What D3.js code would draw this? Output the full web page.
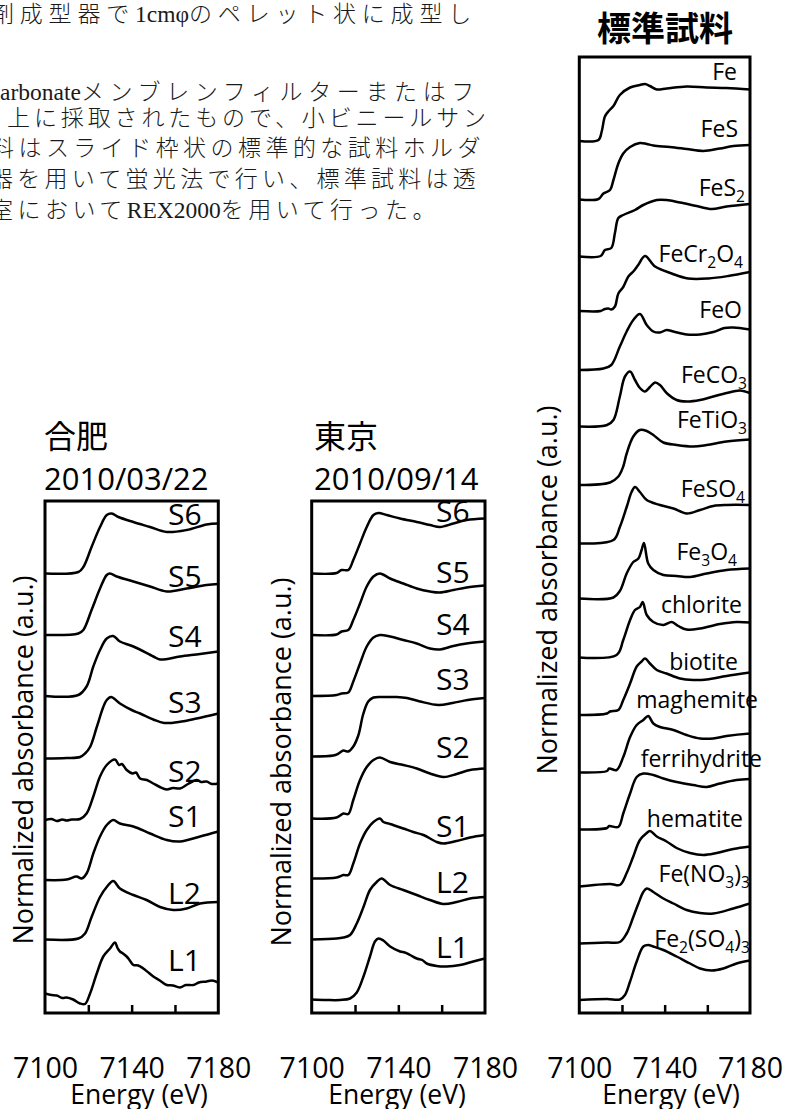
<!DOCTYPE html>
<html><head><meta charset="utf-8">
<script src="https://cdn.jsdelivr.net/npm/d3@7"></script>
<style>
body{margin:0;background:#fff;}
svg{display:block;}
</style></head><body>
<svg id="chart" width="797" height="1109"></svg>
<script>
// ===================== DATA =====================
const energyDomain = [7100, 7180];
const energyTicks = [7120, 7140, 7160];
const energyTickLabels = [7100, 7140, 7180];
const xTitle = "Energy (eV)";
const yTitle = "Normalized absorbance (a.u.)";

const paragraphLines = [
  "剤成型器で1cmφのペレット状に成型し",
  "arbonateメンブレンフィルターまたはフ",
  "上に採取されたもので、小ビニールサン",
  "料はスライド枠状の標準的な試料ホルダ",
  "器を用いて蛍光法で行い、標準試料は透",
  "室においてREX2000を用いて行った。"
];

// ---- 合肥 2010/03/22 ----
const hefeiTitle = "合肥";
const hefeiDate = "2010/03/22";
const hefeiNames = ["S6","S5","S4","S3","S2","S1","L2","L1"];
const hefeiOffsets = [8.79, 7.56, 6.34, 5.09, 3.86, 2.66, 1.47, 0.18];
const hefeiS6 = [[7100,0],[7115.4,.03],[7117.7,.13],[7121.5,.53],[7125.4,.93],[7128.5,1.17],[7130.8,1.2],[7133.9,1.13],[7140.8,1.03],[7148.5,.93],[7156.2,.83],[7165.4,.87],[7174.6,.98],[7180,1.0]];
const hefeiS5 = [[7100,0],[7115.4,.03],[7117.7,.1],[7121.5,.5],[7125.4,.93],[7128.5,1.2],[7130,1.23],[7133.1,1.17],[7140.8,1.07],[7148.5,.97],[7156.2,.87],[7165.4,.93],[7174.6,1.0],[7180,1.02]];
const hefeiS4 = [[7100,0],[7115.4,.02],[7119.2,.19],[7122.3,.59],[7125.4,.92],[7128.5,1.15],[7131.5,1.2],[7134.6,1.09],[7140.8,.99],[7150,.79],[7153.1,.73],[7162.3,.79],[7171.6,.84],[7180,.89]];
const hefeiS3 = [[7100,0],[7110,.01],[7116.2,.03],[7118.5,.1],[7120.8,.23],[7123.9,.63],[7126.9,1.03],[7128.5,1.17],[7130.5,1.23],[7134.6,1.1],[7140,.97],[7143.9,.9],[7150,.78],[7155,.71],[7163,.74],[7170,.8],[7180,.9]];
const hefeiS2 = [[7100,0],[7103,.02],[7105.4,-.02],[7108,.01],[7110,-.01],[7112.3,.01],[7116.2,.02],[7119.2,.13],[7122.3,.47],[7125.4,.87],[7128.5,1.1],[7132.3,1.21],[7134.2,1.1],[7135.5,1.12],[7137.7,1.0],[7140.5,.93],[7142,.95],[7143.9,.83],[7147,.8],[7150,.73],[7153,.66],[7156.2,.61],[7159,.64],[7162.3,.63],[7166,.72],[7170,.8],[7172,.76],[7174.6,.77],[7177,.72],[7180,.73]];
const hefeiS1 = [[7100,0],[7110,.01],[7114.6,.07],[7116.9,.03],[7119.2,.13],[7122.3,.53],[7125.4,.87],[7128.5,1.1],[7131.5,1.2],[7134.6,1.13],[7140.8,1.07],[7148.5,.93],[7156.2,.8],[7162.3,.77],[7171.6,.87],[7180,.97]];
const hefeiL2 = [[7100,0],[7115.4,.02],[7118.5,.12],[7121.5,.45],[7125.4,.85],[7128.5,1.05],[7131.5,1.17],[7134.6,1.02],[7140.8,.89],[7146.9,.79],[7153.1,.65],[7159.2,.59],[7165.4,.62],[7171.6,.72],[7180,.75]];
const hefeiL1 = [[7100,.21],[7103,.18],[7105.4,.17],[7108,.12],[7110,.13],[7113,.09],[7116.2,.01],[7118.5,0],[7120.8,.21],[7123.9,.61],[7126.9,.95],[7130,1.11],[7132.3,1.23],[7133.5,1.12],[7134.6,1.05],[7136,1.01],[7137.7,.95],[7139,.88],[7140.8,.78],[7143,.77],[7145.4,.71],[7148,.62],[7150,.55],[7153,.47],[7156.2,.38],[7159,.37],[7162.3,.33],[7165,.38],[7168.5,.38],[7171,.43],[7174.6,.45],[7177,.47],[7180,.43]];
const hefeiSeries = [hefeiS6, hefeiS5, hefeiS4, hefeiS3, hefeiS2, hefeiS1, hefeiL2, hefeiL1];

// ---- 東京 2010/09/14 ----
const tokyoTitle = "東京";
const tokyoDate = "2010/09/14";
const tokyoNames = ["S6","S5","S4","S3","S2","S1","L2","L1"];
const tokyoOffsets = [8.79, 7.56, 6.34, 5.13, 3.89, 2.69, 1.47, 0.26];
const tokyoS6 = [[7100,0],[7111.5,.01],[7113.8,.07],[7116.9,.07],[7119.2,.27],[7122.3,.6],[7125.4,.93],[7128.5,1.17],[7130.8,1.21],[7134.6,1.17],[7140.8,1.1],[7148.5,1.03],[7154.6,.97],[7159.2,.93],[7165.4,1.0],[7171.5,1.07],[7180,1.1]];
const tokyoS5 = [[7100,0],[7111.5,.01],[7113.8,.07],[7116.9,.1],[7119.2,.3],[7122.3,.63],[7125.4,.97],[7128.5,1.17],[7131.5,1.23],[7136.2,1.13],[7142.3,1.03],[7148.5,.93],[7154.6,.87],[7159.2,.85],[7165.4,.9],[7171.5,.95],[7180,.99]];
const tokyoS4 = [[7100,0],[7111.5,.02],[7113.8,.05],[7116.9,.07],[7119.2,.29],[7122.3,.65],[7125.4,.99],[7128.5,1.17],[7131.5,1.22],[7136.2,1.19],[7142.3,1.12],[7148.5,1.05],[7154.6,.95],[7159.2,.93],[7165.4,1.0],[7171.5,1.05],[7180,1.09]];
const tokyoS3 = [[7100,0],[7110,.02],[7112,.05],[7114.6,.12],[7116.9,.1],[7119.2,.2],[7121.5,.42],[7123.8,.85],[7126.1,1.1],[7128.5,1.18],[7133.1,1.19],[7139.2,1.19],[7144,1.17],[7150,1.1],[7158.5,1.03],[7165,1.07],[7172,1.13],[7180,1.17]];
const tokyoS2 = [[7100,0],[7111.5,.02],[7114.6,.1],[7116.9,.09],[7119.2,.37],[7122.3,.77],[7125.4,1.03],[7128.5,1.17],[7131.5,1.22],[7136.2,1.13],[7142.3,1.07],[7148.5,1.0],[7154.6,.9],[7160.8,.83],[7166.9,.89],[7173.1,.97],[7180,1.0]];
const tokyoS1 = [[7100,0],[7111.5,.02],[7114.6,.07],[7116.9,.07],[7119.2,.3],[7122.3,.7],[7125.4,.97],[7128.5,1.13],[7131.5,1.2],[7133.1,1.13],[7136.2,1.09],[7142.3,1.0],[7146.9,.93],[7151.6,.87],[7157.7,.73],[7160.8,.7],[7166.9,.75],[7173.1,.82],[7180,.87]];
const tokyoL2 = [[7100,0],[7111.5,.02],[7114.6,.04],[7117.7,.09],[7120.8,.32],[7123.9,.65],[7126.9,.99],[7130,1.15],[7132.3,1.22],[7136.2,1.09],[7142.3,.99],[7148.5,.89],[7154.6,.79],[7160.8,.71],[7166.9,.75],[7173.1,.82],[7180,.85]];
const tokyoL1 = [[7100,.01],[7106.9,0],[7113.1,0],[7117.7,.03],[7120.8,.15],[7123.9,.47],[7126.9,.87],[7129.2,1.17],[7130.8,1.23],[7133.1,1.19],[7136.2,1.07],[7140.8,.97],[7143,.95],[7145.4,.9],[7148.5,.83],[7151,.8],[7153.1,.73],[7157.7,.68],[7162.3,.67],[7168.5,.7],[7174.6,.77],[7180,.83]];
const tokyoSeries = [tokyoS6, tokyoS5, tokyoS4, tokyoS3, tokyoS2, tokyoS1, tokyoL2, tokyoL1];

// ---- 標準試料 ----
const standardTitle = "標準試料";
const standardNames = ["Fe","FeS","FeS_2","FeCr_2O_4","FeO","FeCO_3","FeTiO_3","FeSO_4","Fe_3O_4","chlorite","biotite","maghemite","ferrihydrite","hematite","Fe(NO_3)_3","Fe_2(SO_4)_3"];
const standardOffsets = [17.44, 16.27, 15.13, 14.04, 12.86, 11.73, 10.56, 9.39, 8.29, 7.11, 5.96, 4.81, 3.67, 2.53, 1.39, 0.26];
const stdFe = [[7100,0],[7109,.02],[7110.5,.19],[7112,.49],[7113.6,.59],[7116,.7],[7119,.92],[7123.8,1.07],[7128.4,1.12],[7130.8,1.14],[7133.1,1.1],[7136.3,1.03],[7141,1.05],[7150.3,1.09],[7159.7,1.07],[7169,1.06],[7180,1.03]];
const stdFeS = [[7100,0],[7109,.01],[7111.3,.12],[7114.4,.19],[7116,.39],[7118.3,.72],[7120.6,.92],[7123.8,1.05],[7128.4,1.13],[7131.6,1.11],[7134.7,1.08],[7142.5,1.05],[7150.3,1.01],[7158.1,.97],[7165.9,1.02],[7172.2,1.07],[7180,1.09]];
const stdFeS2 = [[7100,0],[7110,.01],[7112,.13],[7115,.17],[7116.7,.47],[7118.3,.77],[7120.6,.83],[7126.1,.93],[7130,1.03],[7136.3,1.13],[7140.9,1.13],[7147.2,1.08],[7155,1.01],[7162,.95],[7169,1.0],[7180,1.05]];
const stdFeCr2O4 = [[7100,0],[7110,0],[7112,.04],[7113.6,.05],[7115,.03],[7116.7,.09],[7118.3,.35],[7120.6,.48],[7123,.69],[7125.3,.79],[7127.6,.92],[7130.8,1.1],[7135.5,.89],[7143.3,.75],[7151,.65],[7160.4,.65],[7169.8,.7],[7180,.78]];
const stdFeO = [[7100,0],[7111.3,.03],[7115,.1],[7119,.47],[7122.2,.77],[7125.3,1.0],[7128.4,1.12],[7131.6,.9],[7134.7,.77],[7137.8,.75],[7140.9,.8],[7144.1,.77],[7150.3,.71],[7156.6,.71],[7162.8,.76],[7168,.84],[7172.2,.85],[7180,.81]];
const stdFeCO3 = [[7100,0],[7113,.03],[7116,.13],[7119,.6],[7121.4,1.0],[7123.8,1.1],[7126.1,.93],[7128.4,.77],[7130.8,.7],[7133.1,.79],[7135.5,.88],[7137.8,.83],[7140.9,.67],[7145.6,.53],[7150.3,.5],[7156.6,.53],[7162.8,.6],[7169,.67],[7175.3,.72],[7180,.67]];
const stdFeTiO3 = [[7100,0],[7114.4,.05],[7118.3,.17],[7120.6,.37],[7122.2,.63],[7125.3,.97],[7128.4,1.1],[7131.6,1.08],[7134.7,1.0],[7139.4,.85],[7145.6,.8],[7153.4,.77],[7159.7,.8],[7169,.87],[7180,.91]];
const stdFeSO4 = [[7100,0],[7116,.07],[7119,.33],[7122.2,.73],[7124.5,1.03],[7126.1,1.13],[7128.4,1.03],[7131.6,.87],[7137.8,.77],[7144.1,.7],[7150.3,.6],[7156.6,.67],[7162.8,.75],[7169,.77],[7180,.77]];
const stdFe3O4 = [[7100,0],[7116,.02],[7119,.15],[7122.2,.5],[7125.3,.73],[7127.7,.8],[7129.2,.97],[7130.3,1.11],[7132.3,.7],[7134.7,.57],[7139.4,.47],[7145.6,.45],[7151.9,.43],[7159.7,.5],[7169,.57],[7180,.6]];
const stdChlorite = [[7100,0],[7117.5,.05],[7120.6,.35],[7123.8,.75],[7126.1,.95],[7128.4,1.01],[7129.7,1.11],[7131.6,.85],[7134.7,.71],[7139.4,.65],[7143.3,.71],[7146.4,.63],[7150.3,.56],[7156.6,.58],[7165.9,.67],[7173.7,.71],[7180,.7]];
const stdBiotite = [[7100,0],[7113,.03],[7114.4,.07],[7118.3,.1],[7120.6,.3],[7123.8,.63],[7126.9,.97],[7129.2,1.07],[7130.8,1.13],[7133.1,1.03],[7136.3,.9],[7140.9,.83],[7147.2,.73],[7153.4,.7],[7159.7,.71],[7169,.78],[7180,.85]];
const stdMaghemite = [[7100,0],[7113,.03],[7114,.08],[7117.5,.05],[7120.6,.31],[7123.8,.71],[7126.9,.95],[7130,1.05],[7132.3,1.13],[7134.7,.98],[7137.8,.91],[7144.1,.85],[7150.3,.75],[7156.6,.68],[7162.8,.68],[7169,.73],[7180,.78]];
const stdFerrihydrite = [[7100,0],[7113,.03],[7114,.07],[7118.3,.05],[7120.6,.32],[7123.8,.72],[7126.9,1.05],[7130,1.12],[7134.7,1.09],[7139.4,1.02],[7145.6,.95],[7153.4,.89],[7159.7,.85],[7165.9,.92],[7173.7,.99],[7180,1.01]];
const stdHematite = [[7100,0],[7114.4,.05],[7119,.03],[7122.2,.27],[7125.3,.6],[7128.4,.93],[7131.6,1.07],[7133.1,1.11],[7136.3,1.0],[7140.9,.9],[7145.6,.77],[7151.9,.67],[7158.1,.63],[7164.4,.67],[7172.2,.75],[7180,.8]];
const stdFeNO33 = [[7100,0],[7113,.02],[7119,.03],[7122.2,.2],[7125.3,.53],[7127.7,.8],[7130,1.03],[7131.6,1.1],[7134.7,1.03],[7139.4,.9],[7144.1,.8],[7150.3,.67],[7156.6,.61],[7162.8,.6],[7172.2,.7],[7180,.8]];
const stdFe2SO43 = [[7100,0],[7113,.02],[7119,.01],[7121.4,.1],[7123.8,.37],[7126.9,.77],[7130,1.07],[7132.3,1.1],[7134.7,1.07],[7139.4,1.0],[7145.6,.87],[7151.9,.73],[7156.6,.63],[7162,.59],[7167.5,.63],[7173.7,.73],[7180,.79]];
const standardSeries = [stdFe, stdFeS, stdFeS2, stdFeCr2O4, stdFeO, stdFeCO3, stdFeTiO3, stdFeSO4, stdFe3O4, stdChlorite, stdBiotite, stdMaghemite, stdFerrihydrite, stdHematite, stdFeNO33, stdFe2SO43];

// ===================== LAYOUT =====================
const LATIN = "'Open Sans', 'Noto Sans', sans-serif";
const CJK = "'Noto Sans CJK JP', sans-serif";
const SERIF = "'Liberation Serif', 'DejaVu Serif', serif";
const UNIT_PX = 50;
const panels = [
  { left:45, right:218.3, top:501, bottom:1013, title:hefeiTitle, date:hefeiDate, titleX:44, titleSize:32,
    names:hefeiNames, offsets:hefeiOffsets, series:hefeiSeries, labelSize:30,
    labelX:[168,168,168,168,168,168,168,168], labelAnchor:"start",
    labelY:[525,587,647,713,782,827,904,971],
    yTitleX:33, yTitleY:760, xTitleX:139 },
  { left:311.7, right:485, top:501, bottom:1013, title:tokyoTitle, date:tokyoDate, titleX:314, titleSize:32,
    names:tokyoNames, offsets:tokyoOffsets, series:tokyoSeries, labelSize:30,
    labelX:[436,436,436,436,436,436,436,436], labelAnchor:"start",
    labelY:[522,583,635,690,758,837,893,958],
    yTitleX:291, yTitleY:762, xTitleX:397 },
  { left:579.3, right:750, top:57, bottom:1013, title:standardTitle, titleCenter:665, titleSize:34,
    names:standardNames, offsets:standardOffsets, series:standardSeries, labelSize:23,
    labelX:[737,738,745,743,742,747,747,745,737,742,738,758,762,743,750,750], labelAnchor:"end",
    labelY:[80,137,196,262,318,383,428,497,560,613,670,708,767,827,882,947],
    yTitleX:557, yTitleY:590, xTitleX:671 }
];
const paraX = [-9, 0, 7, -9, -10, -10];
const paraY = [22, 100, 126, 156, 187, 218];
const paraRight = [477, 480, 490, 485, 480, 440];

// ===================== DRAW =====================
const svg = d3.select("#chart");
svg.append("rect").attr("width",797).attr("height",1109).attr("fill","#fff");

// paragraph (Latin runs in serif, Japanese runs spaced to the measured line width)
const para = svg.append("g").attr("fill","#1a1a1a");
paragraphLines.forEach((t,i)=>{
  const txt = para.append("text").attr("x",paraX[i]).attr("y",paraY[i]);
  const runs = t.match(/[\x20-\x7e\u0370-\u03ff]+|[^\x20-\x7e\u0370-\u03ff]+/g);
  let nCJK = 0; const cjkSpans = [];
  runs.forEach(r=>{
    const latin = /^[\x20-\x7e\u0370-\u03ff]+$/.test(r);
    const ts = txt.append("tspan").text(r);
    if(latin){ ts.attr("font-family",SERIF).attr("font-size",23.5); }
    else { ts.attr("font-family",CJK).attr("font-size",23).attr("font-weight",300); nCJK += [...r].length; cjkSpans.push(ts); }
  });
  const natural = txt.node().getComputedTextLength();
  const ls = Math.max(0,(paraRight[i]-paraX[i]-natural)/nCJK);
  cjkSpans.forEach(s=>s.style("letter-spacing", ls+"px"));
});

function richText(sel, str, size){
  const re = /_(\d)/g; let last=0, m; const segs=[];
  while((m=re.exec(str))){ if(m.index>last) segs.push({t:str.slice(last,m.index),sub:false}); segs.push({t:m[1],sub:true}); last=re.lastIndex; }
  if(last<str.length) segs.push({t:str.slice(last),sub:false});
  let prevSub=false;
  segs.forEach(s=>{
    const ts = sel.append("tspan").text(s.t);
    if(s.sub){ ts.attr("font-size", size*0.68); if(!prevSub) ts.attr("dy", size*0.25); }
    else if(prevSub){ ts.attr("dy", -size*0.25); }
    prevSub = s.sub;
  });
}

panels.forEach((p,pi)=>{
  const g = svg.append("g");
  const x = d3.scaleLinear().domain(energyDomain).range([p.left, p.right]);
  const y = d3.scaleLinear().domain([0, (p.bottom-p.top)/UNIT_PX]).range([p.bottom, p.top]);

  const clipId = "clip"+pi;
  svg.append("clipPath").attr("id",clipId).append("rect")
    .attr("x",p.left).attr("y",p.top).attr("width",p.right-p.left).attr("height",p.bottom-p.top);

  const curves = g.append("g").attr("clip-path",`url(#${clipId})`);
  p.series.forEach((s,i)=>{
    const off = p.offsets[i];
    const line = d3.line().x(d=>x(d[0])).y(d=>y(d[1]+off)).curve(d3.curveCatmullRom.alpha(0.5));
    curves.append("path").attr("d", line(s)).attr("fill","none").attr("stroke","#000")
      .attr("stroke-width",2.5).attr("stroke-linejoin","round");
  });

  // frame
  g.append("rect").attr("x",p.left).attr("y",p.top).attr("width",p.right-p.left).attr("height",p.bottom-p.top)
    .attr("fill","none").attr("stroke","#000").attr("stroke-width",3);

  // ticks (inner, unlabelled) and tick labels
  const gt = g.append("g").attr("transform",`translate(0,${p.bottom})`)
    .call(d3.axisBottom(x).tickValues(energyTicks).tickSizeInner(-8).tickSizeOuter(0).tickFormat(""));
  gt.select(".domain").remove();
  gt.selectAll("line").attr("stroke","#000").attr("stroke-width",2.5);
  const gl = g.append("g").attr("transform",`translate(0,${p.bottom})`)
    .call(d3.axisBottom(x).tickValues(energyTickLabels).tickSize(0).tickPadding(45).tickFormat(d3.format("d")));
  gl.select(".domain").remove();
  gl.selectAll("text").attr("font-family",LATIN).attr("font-size",28.5).attr("fill","#000");

  // x title
  g.append("text").attr("x",p.xTitleX).attr("y",1104).attr("text-anchor","middle")
    .attr("font-family",LATIN).attr("font-size",26.5).attr("fill","#000").text(xTitle);
  // y title
  g.append("text").attr("transform",`translate(${p.yTitleX},${p.yTitleY}) rotate(-90)`).attr("text-anchor","middle")
    .attr("font-family",LATIN).attr("font-size",27).attr("fill","#000").text(yTitle);

  // titles
  if(p.date){
    g.append("text").attr("x",p.titleX).attr("y",448).attr("font-family",CJK).attr("font-size",p.titleSize).attr("fill","#000").text(p.title);
    g.append("text").attr("x",p.titleX).attr("y",490).attr("font-family",LATIN).attr("font-size",31).attr("fill","#000").text(p.date);
  } else {
    g.append("text").attr("x",p.titleCenter).attr("y",41).attr("text-anchor","middle").attr("font-family",CJK)
      .attr("font-weight","bold").attr("font-size",p.titleSize).attr("fill","#000").text(p.title);
  }

  // sample labels
  p.names.forEach((n,i)=>{
    const t = g.append("text").attr("x",p.labelX[i]).attr("y",p.labelY[i]).attr("text-anchor",p.labelAnchor)
      .attr("font-family",LATIN).attr("font-size",p.labelSize).attr("fill","#000");
    richText(t, n, p.labelSize);
  });
});
</script>
</body></html>
